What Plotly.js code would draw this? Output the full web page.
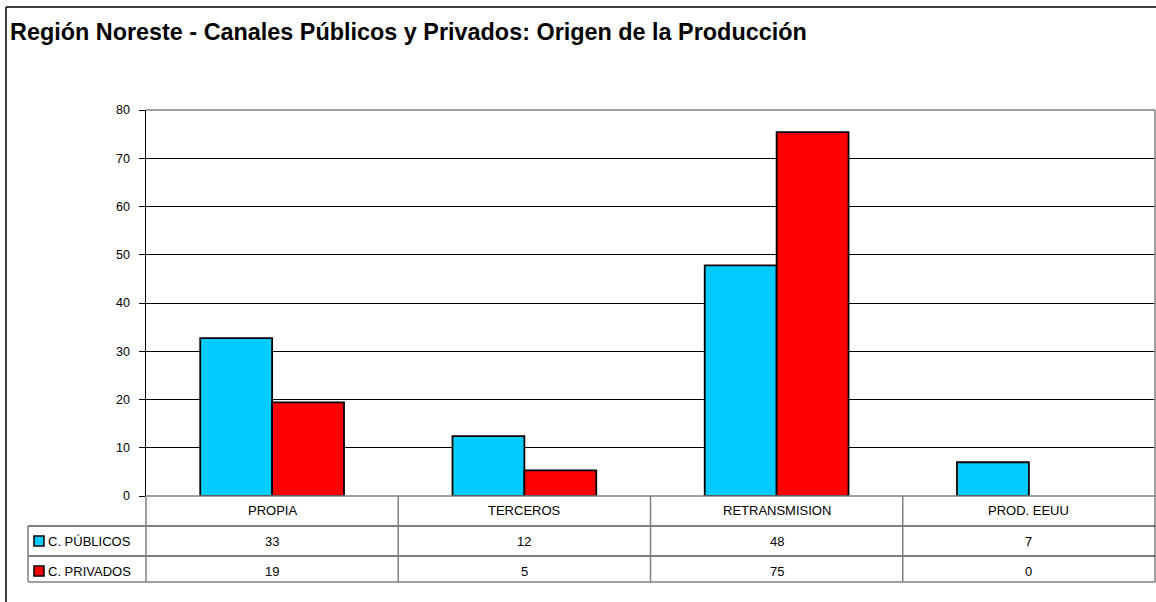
<!DOCTYPE html>
<html><head><meta charset="utf-8">
<script src="https://cdn.plot.ly/plotly-3.0.1.min.js"></script>
<style>html,body{margin:0;padding:0;background:#fff}#c{width:1156px;height:602px}</style>
</head><body><div id="c"></div>
<script>
var categories = ["PROPIA", "TERCEROS", "RETRANSMISION", "PROD. EEUU"];
var seriesNames = ["C. PÚBLICOS", "C. PRIVADOS"];
var publicos = [32.7, 12.4, 47.8, 7.0];
var privados = [19.4, 5.3, 75.4, 0];
var colors = ["#00CCFF", "#FF0000"];
var yTicks = [0, 10, 20, 30, 40, 50, 60, 70, 80];

var W = 1156, Hh = 602;
var L = 146, R = 1, T = 110, B = 106;
var PW = W - L - R, PH = Hh - T - B;
function px(x){ return (x - L) / PW; }
function py(y){ return (Hh - B - y) / PH; }

var font = "Liberation Sans, Arial, sans-serif";
var traces = [publicos, privados].map(function(v, i){
  return {type: "bar", x: categories, y: v, name: seriesNames[i],
    marker: {color: colors[i], line: {color: "#000", width: v.map(function(d){ return d === 0 ? 0 : 1.8; })}}, hoverinfo: "x+y"};
});

var shapes = [], ann = [];
var gray = "#808080";
function line(x0,y0,x1,y1,c,w){ shapes.push({type:"line", xref:"paper", yref:"paper", x0:px(x0), y0:py(y0), x1:px(x1), y1:py(y1), line:{color:c, width:w||1}}); }
// plot frame
line(146,110,1155,110,gray,1.5);
line(1155,110,1155,582,gray,1.5);
line(146,496,1155,496,gray,1.5);
// table
line(28,526,1155,526,"#000",1.2);
line(28,556,1155,556,"#000",1.2);
line(28,582,1155,582,gray,1.5);
line(28,526,28,582,gray,1.5);
line(146,496,146,582,gray,1.5);
for (var k = 0; k < categories.length - 1; k++) {
  shapes.push({type:"line", xref:"x", yref:"paper", x0:k+0.5, x1:k+0.5, y0:py(496), y1:py(582), line:{color:gray, width:1.5}});
}
// outer chart border
line(6,7,1156,7,"#000",1.5);
line(6,7,6,602,"#000",1.5);

var rowsY = [541, 571];
var series = [publicos, privados];
var tf = {family:font, size:13, color:"#000"};
categories.forEach(function(c, i){
  ann.push({xref:"x", yref:"paper", x:i, y:py(511), yanchor:"middle", xanchor:"center", text:c, showarrow:false, font:tf});
  series.forEach(function(s, j){
    ann.push({xref:"x", yref:"paper", x:i, y:py(rowsY[j]), yanchor:"middle", xanchor:"center", text:String(Math.round(s[i])), showarrow:false, font:tf});
  });
});
seriesNames.forEach(function(n, j){
  shapes.push({type:"rect", xref:"paper", yref:"paper", x0:px(34), x1:px(44), y0:py(rowsY[j]-5), y1:py(rowsY[j]+5), fillcolor:colors[j], line:{color:"#000", width:1.5}});
  ann.push({xref:"paper", yref:"paper", x:px(46), y:py(rowsY[j]), xanchor:"left", yanchor:"middle", text:n, showarrow:false, font:tf});
});

var layout = {
  width: W, height: Hh,
  margin: {l: L, r: R, t: T, b: B},
  paper_bgcolor: "#fff", plot_bgcolor: "#fff",
  title: {text: "Región Noreste - Canales Públicos y Privados: Origen de la Producción",
    x: 10/W, xanchor: "left", xref: "container", y: 1 - 32/Hh, yanchor: "middle", yref: "container",
    font: {family: font, size: 23.4, weight: "bold", color: "#000"}},
  showlegend: false,
  barmode: "group", bargap: 0.43, bargroupgap: 0,
  xaxis: {type: "category", showticklabels: false, ticks: "", showgrid: false, showline: false, zeroline: false, range: [-0.5, 3.5]},
  yaxis: {range: [0, 80], tickvals: yTicks, ticktext: yTicks.map(String), showgrid: true, gridcolor: "#000", gridwidth: 1,
    showline: true, linecolor: "#000", linewidth: 1.5, ticks: "outside", ticklen: 6, tickcolor: "#000", zeroline: false,
    ticklabelstandoff: 6, tickfont: {family: font, size: 12.5, color: "#000"}},
  shapes: shapes, annotations: ann
};
Plotly.newPlot("c", traces, layout, {displayModeBar: false, staticPlot: true});
</script></body></html>
